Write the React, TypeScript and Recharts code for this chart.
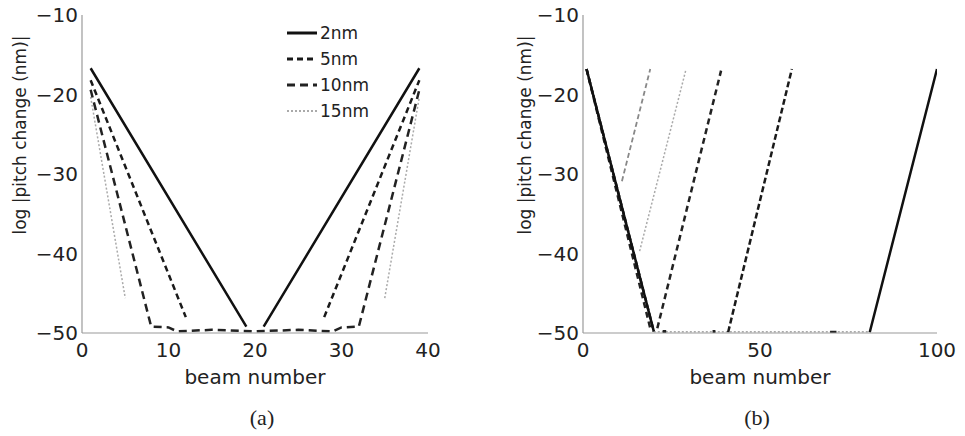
import React from 'react';
import { LineChart, Line, XAxis, YAxis, Legend, Label } from 'recharts';

// ---------- shared ticks ----------
const yTicks = [-10, -20, -30, -40, -50];
const xTicksA = [0, 10, 20, 30, 40];
const xTicksB = [0, 50, 100];

// ---------- panel (a): pitch variations ----------
const legendNames = ['2nm', '5nm', '10nm', '15nm'];

const a2nmBeam = [1, 19, 20, 21, 39];
const a2nmVal = [-16.7, -49.2, null, -49.2, -16.7];

const a5nmBeam = [1, 12, 20, 28, 39];
const a5nmVal = [-18.2, -48.0, null, -48.0, -18.2];

const a10nmBeam = [1, 8, 10, 11, 15, 20, 25, 29, 30, 32, 39];
const a10nmVal = [-19.4, -49.2, -49.3, -49.8, -49.6, -49.8, -49.6, -49.8, -49.3, -49.2, -19.4];

const a15nmBeam = [1, 5, 20, 35, 39];
const a15nmVal = [-20.3, -45.6, null, -45.6, -20.3];

// ---------- panel (b): array sizes ----------
const b20Beam = [1, 9, 10, 11, 19];
const b20Val = [-16.8, -30.8, null, -30.9, -16.8];

const b30Beam = [1, 14, 15, 16, 29];
const b30Val = [-16.8, -39.6, null, -39.7, -17.0];

const b40Beam = [1, 19, 20, 21, 39];
const b40Val = [-16.8, -49.4, null, -49.4, -17.0];

const b60Beam = [1, 20, 30, 41, 59];
const b60Val = [-16.8, -49.8, null, -49.9, -16.8];

const b100Beam = [1, 20, 50, 81, 100];
const b100Val = [-16.8, -49.8, null, -49.9, -16.8];

const bFloorBeam = [20, 81];
const bFloorVal = [-49.85, -49.85];

const bMarkBeam = [22.5, 23.5, 30, 36.6, 37.4, 50, 69.8, 71.6];
const bMarkVal = [-49.8, -49.8, null, -49.8, -49.8, null, -49.9, -49.9];

const toPts = (xs: number[], ys: (number | null)[]) => xs.map((x, i) => ({ x, y: ys[i] }));

const FONT = 'DejaVu Sans';
const TEXT = '#222';
const AXIS = '#9a9a9a';

const fmtY = (v: number) => (v < 0 ? '\u2212' + Math.abs(v) : String(v));

const aStyles = [
  { stroke: '#111', width: 2.5, dash: undefined as string | undefined },
  { stroke: '#1a1a1a', width: 2.5, dash: '6 4' },
  { stroke: '#222', width: 2.5, dash: '8 5' },
  { stroke: '#aaa', width: 1.5, dash: '2 2' },
];

const aSeries = [
  toPts(a2nmBeam, a2nmVal),
  toPts(a5nmBeam, a5nmVal),
  toPts(a10nmBeam, a10nmVal),
  toPts(a15nmBeam, a15nmVal),
];

const YLab = (cx: number, cy: number) => (props: any) => (
  <text
    x={cx}
    y={cy}
    transform={`rotate(-90 ${cx} ${cy})`}
    textAnchor="middle"
    dominantBaseline="central"
    fontFamily={FONT}
    fontSize={17}
    fill={TEXT}
  >
    log |pitch change (nm)|
  </text>
);

const XLab = (props: any) => {
  const vb = props.viewBox || {};
  return (
    <text
      x={vb.x + vb.width / 2}
      y={vb.y + 51}
      textAnchor="middle"
      fontFamily={FONT}
      fontSize={20}
      fill={TEXT}
    >
      beam number
    </text>
  );
};

const LegendBox = () => (
  <div style={{ fontFamily: FONT, fontSize: 17, color: TEXT }}>
    {legendNames.map((n, i) => (
      <div key={n} style={{ height: 26, display: 'flex', alignItems: 'center' }}>
        <svg width={33} height={12} style={{ display: 'block' }}>
          <line
            x1={1}
            y1={6}
            x2={31}
            y2={6}
            stroke={aStyles[i].stroke}
            strokeWidth={aStyles[i].width + 0.5}
            strokeDasharray={aStyles[i].dash}
          />
        </svg>
        <span style={{ marginLeft: 1, lineHeight: '26px' }}>{n}</span>
      </div>
    ))}
  </div>
);

const tickStyle = { fontSize: 20, fill: TEXT, fontFamily: FONT };

export default function App() {
  return (
    <div style={{ position: 'absolute', left: 0, top: 0, width: 965, height: 436, background: '#fff' }}>
      {/* panel (a) */}
      <div style={{ position: 'absolute', left: 0, top: 0 }}>
        <LineChart width={440} height={400} margin={{ top: 15, right: 12, bottom: 0, left: 0 }}>
          <XAxis
            type="number"
            dataKey="x"
            domain={[0, 40]}
            ticks={xTicksA}
            interval={0}
            allowDataOverflow
            height={67}
            tickLine={false}
            tickSize={6}
            tickMargin={4}
            axisLine={{ stroke: AXIS, strokeWidth: 1.2 }}
            tick={tickStyle}
          >
            <Label content={XLab} />
          </XAxis>
          <YAxis
            type="number"
            domain={[-50, -10]}
            ticks={yTicks}
            interval={0}
            allowDataOverflow
            width={82}
            tickLine={false}
            tickSize={2}
            tickMargin={2}
            tickFormatter={fmtY}
            axisLine={{ stroke: AXIS, strokeWidth: 1.2 }}
            tick={tickStyle}
          >
            <Label content={YLab(20, 135)} />
          </YAxis>
          <Legend
            layout="vertical"
            align="center"
            verticalAlign="middle"
            wrapperStyle={{ left: 286, top: 20, width: 120 }}
            content={() => <LegendBox />}
          />
          {[3, 2, 1, 0].map((i) => (
            <Line
              key={legendNames[i]}
              name={legendNames[i]}
              data={aSeries[i]}
              dataKey="y"
              type="linear"
              stroke={aStyles[i].stroke}
              strokeWidth={aStyles[i].width}
              strokeDasharray={aStyles[i].dash}
              dot={false}
              activeDot={false}
              connectNulls={false}
              isAnimationActive={false}
            />
          ))}
        </LineChart>
      </div>

      {/* panel (b) */}
      <div style={{ position: 'absolute', left: 500, top: 0 }}>
        <LineChart width={465} height={400} margin={{ top: 15, right: 28, bottom: 0, left: 0 }}>
          <XAxis
            type="number"
            dataKey="x"
            domain={[0, 100]}
            ticks={xTicksB}
            interval={0}
            allowDataOverflow
            height={67}
            tickLine={false}
            tickSize={6}
            tickMargin={4}
            axisLine={{ stroke: AXIS, strokeWidth: 1.2 }}
            tick={tickStyle}
          >
            <Label content={XLab} />
          </XAxis>
          <YAxis
            type="number"
            domain={[-50, -10]}
            ticks={yTicks}
            interval={0}
            allowDataOverflow
            width={83}
            tickLine={false}
            tickSize={2}
            tickMargin={2}
            tickFormatter={fmtY}
            axisLine={{ stroke: AXIS, strokeWidth: 1.2 }}
            tick={tickStyle}
          >
            <Label content={YLab(25, 135)} />
          </YAxis>
          <Line name="floor" data={toPts(bFloorBeam, bFloorVal)} dataKey="y" stroke="#aaa" strokeWidth={1.5} strokeDasharray="2 2" dot={false} activeDot={false} isAnimationActive={false} />
          <Line name="30 beams" data={toPts(b30Beam, b30Val)} dataKey="y" stroke="#aaa" strokeWidth={1.5} strokeDasharray="2 2" dot={false} activeDot={false} isAnimationActive={false} />
          <Line name="20 beams" data={toPts(b20Beam, b20Val)} dataKey="y" stroke="#888" strokeWidth={1.8} strokeDasharray="5 3" dot={false} activeDot={false} isAnimationActive={false} />
          <Line name="40 beams" data={toPts(b40Beam, b40Val)} dataKey="y" stroke="#222" strokeWidth={2.5} strokeDasharray="6 4" dot={false} activeDot={false} isAnimationActive={false} />
          <Line name="60 beams" data={toPts(b60Beam, b60Val)} dataKey="y" stroke="#1a1a1a" strokeWidth={2.5} strokeDasharray="6 3" dot={false} activeDot={false} isAnimationActive={false} />
          <Line name="100 beams" data={toPts(b100Beam, b100Val)} dataKey="y" stroke="#111" strokeWidth={2.5} dot={false} activeDot={false} isAnimationActive={false} />
          <Line name="marks" data={toPts(bMarkBeam, bMarkVal)} dataKey="y" stroke="#222" strokeWidth={3} dot={false} activeDot={false} isAnimationActive={false} />
        </LineChart>
      </div>

      <div style={{ position: 'absolute', left: 262, top: 418, transform: 'translate(-50%, -50%)', fontFamily: 'Liberation Serif', fontSize: 22, color: TEXT }}>(a)</div>
      <div style={{ position: 'absolute', left: 757, top: 418, transform: 'translate(-50%, -50%)', fontFamily: 'Liberation Serif', fontSize: 22, color: TEXT }}>(b)</div>
    </div>
  );
}
